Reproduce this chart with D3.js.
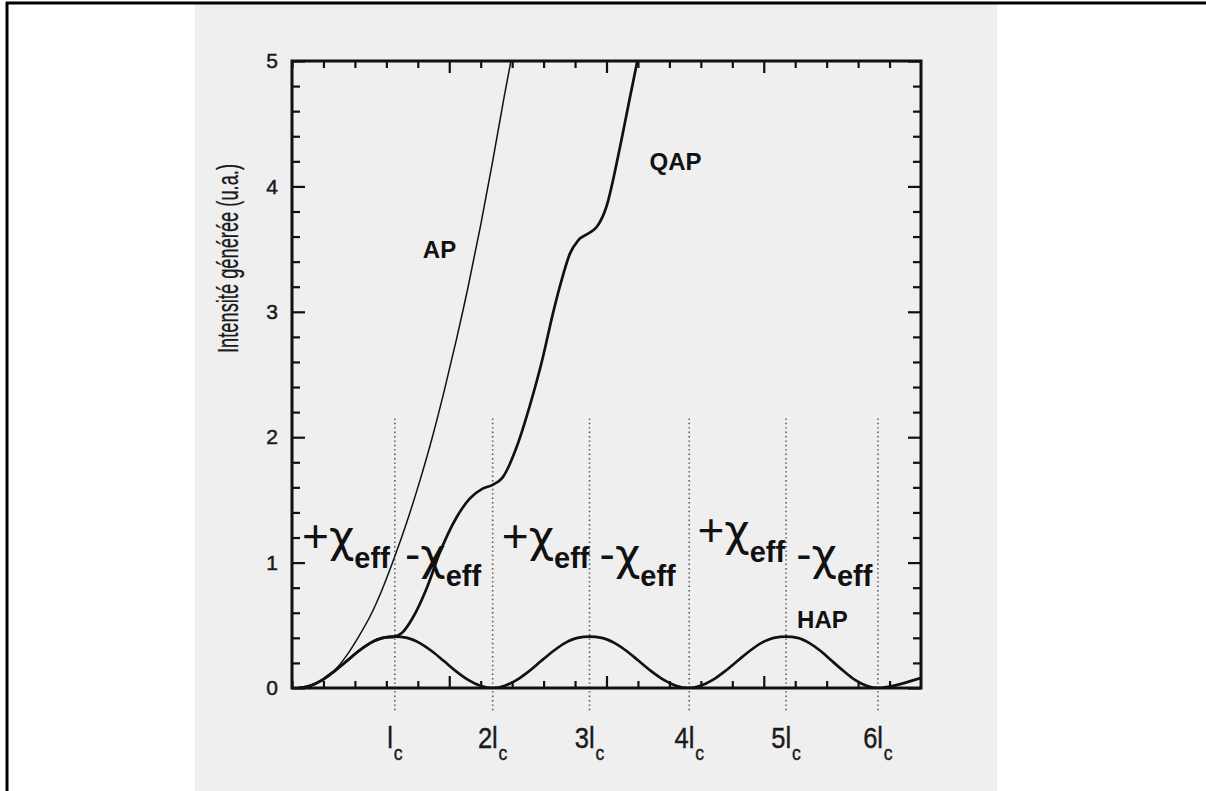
<!DOCTYPE html>
<html>
<head>
<meta charset="utf-8">
<script src="https://cdn.jsdelivr.net/npm/d3@7"></script>
<style>
  html, body { margin: 0; padding: 0; background: #ffffff; }
  svg { display: block; }
  .narrow { font-family: "Liberation Sans Narrow", "Liberation Sans", Arial, sans-serif; }
  .sans { font-family: "Liberation Sans", Arial, Helvetica, sans-serif; }
  .greek { font-family: "DejaVu Sans", "Noto Sans", sans-serif; }
</style>
</head>
<body>
<svg id="chart" width="1206" height="791"></svg>
<script>
// ---------- data (x in length units of the horizontal axis, y in u.a.) ----------
const hapX = [0.20,0.58,0.97,1.35,1.74,2.12,2.50,2.89,3.27,
              3.66,4.05,4.44,4.83,5.21,5.60,5.99,6.38,
              6.77,7.15,7.54,7.92,8.31,8.69,9.08,9.46,
              9.85,10.25,10.64,11.03,11.42,11.82,12.21,12.60,
              12.99,13.38,13.77,14.16,14.55,14.93,15.32,15.71,
              16.08,16.44,16.81,17.17,17.54,17.90,18.27,18.63,
              19.00,19.40,19.80,20.00];
const hapY = [0,0.018,0.065,0.135,0.215,0.295,0.36,0.40,0.41,
              0.40,0.36,0.295,0.215,0.135,0.065,0.018,0,
              0.018,0.065,0.135,0.215,0.295,0.36,0.40,0.41,
              0.40,0.36,0.295,0.215,0.135,0.065,0.018,0,
              0.018,0.065,0.135,0.215,0.295,0.36,0.40,0.41,
              0.40,0.36,0.295,0.215,0.135,0.065,0.018,0,
              0.012,0.035,0.065,0.08];

const apX = [0.20,0.58,0.97,1.35,1.74,2.12,2.50,2.89,3.27,3.66,4.05,4.44,4.83,5.21,5.60,5.99,6.38,6.75,6.96];
const apY = [0,0.018,0.065,0.14,0.26,0.41,0.58,0.80,1.05,1.33,1.64,1.98,2.36,2.76,3.20,3.68,4.20,4.72,5.0];

const qapX = [0.20,0.58,0.97,1.35,1.74,2.12,2.50,2.89,3.27,3.50,3.84,4.29,4.70,5.23,5.65,6.06,6.38,6.70,
              7.14,7.56,7.97,8.29,8.57,8.83,9.10,9.46,9.70,10.00,10.41,10.73,10.98];
const qapY = [0,0.018,0.065,0.135,0.215,0.295,0.36,0.40,0.41,0.44,0.56,0.80,1.08,1.36,1.51,1.59,1.62,1.68,
              1.92,2.25,2.63,2.98,3.25,3.46,3.57,3.63,3.68,3.84,4.29,4.69,5.0];

// coherence-length marks
const lcPos    = [3.27, 6.38, 9.46, 12.63, 15.71, 18.63];
const lcLabels = ["l", "2l", "3l", "4l", "5l", "6l"];

// axis ticks
const xMinorTicks = [0,1,2,3,4,6,7,8,9,11,12,13,14,16,17,18,19];
const xMajorTicks = [5,10,15];
const yMinorTicks = [0.2,0.4,0.6,0.8,1.2,1.4,1.6,1.8,2.2,2.4,2.6,2.8,3.2,3.4,3.6,3.8,4.2,4.4,4.6,4.8];
const yMajorTicks = [0,1,2,3,4,5];

// annotations
const curveNames = ["AP", "QAP", "HAP"];
const curveNameX = [4.16, 11.37, 16.06];
const curveNameY = [3.43, 4.13, 0.48];
const chiSigns = ["+", "-", "+", "-", "+", "-"];
const chiX = [0.32, 3.59, 6.67, 9.78, 12.89, 16.03];
const chiY = [1.085, 0.94, 1.085, 0.94, 1.13, 0.94];

// ---------- drawing ----------
(function () {
const svg = d3.select("#chart");
const W = 1206, H = 791;

svg.append("rect").attr("x", 0).attr("y", 0).attr("width", W).attr("height", H).attr("fill", "#ffffff");
svg.append("rect").attr("x", 195).attr("y", 4).attr("width", 802).attr("height", H - 4).attr("fill", "#efefef");
svg.append("line").attr("x1", 6).attr("x2", W).attr("y1", 3).attr("y2", 3).attr("stroke", "#000").attr("stroke-width", 3);
svg.append("line").attr("x1", 7).attr("x2", 7).attr("y1", 2).attr("y2", H).attr("stroke", "#000").attr("stroke-width", 3);

const pL = 292, pR = 921, pT = 61, pB = 688;
const x = d3.scaleLinear().domain([0, 20]).range([pL, pR]);
const y = d3.scaleLinear().domain([0, 5]).range([pB, pT]);

const ink = "#111";

svg.append("g").selectAll("line").data(lcPos).join("line")
  .attr("x1", d => x(d)).attr("x2", d => x(d))
  .attr("y1", y(2.15)).attr("y2", y(0) + 25)
  .attr("stroke", "#555").attr("stroke-width", 1.6)
  .attr("stroke-dasharray", "1.4,3");

svg.append("defs").append("clipPath").attr("id", "plotclip")
  .append("rect").attr("x", pL).attr("y", pT).attr("width", pR - pL).attr("height", pB - pT);

const line = d3.line().x(d => x(d[0])).y(d => y(d[1])).curve(d3.curveMonotoneX);
const plot = svg.append("g").attr("clip-path", "url(#plotclip)");

plot.append("path").datum(apX.map((v, i) => [v, apY[i]]))
  .attr("d", line).attr("fill", "none").attr("stroke", ink).attr("stroke-width", 1.5);
plot.append("path").datum(qapX.map((v, i) => [v, qapY[i]]))
  .attr("d", line).attr("fill", "none").attr("stroke", ink).attr("stroke-width", 2.7);
plot.append("path").datum(hapX.map((v, i) => [v, hapY[i]]))
  .attr("d", line).attr("fill", "none").attr("stroke", ink).attr("stroke-width", 2.7);

function styleAxis(g) {
  g.select(".domain").remove();
  g.selectAll(".tick line").attr("stroke", ink).attr("stroke-width", 2.2);
}
svg.append("g").attr("transform", `translate(${pL},0)`)
  .call(d3.axisLeft(y).tickValues(yMinorTicks).tickSize(-8).tickFormat(""))
  .call(styleAxis);
svg.append("g").attr("transform", `translate(${pL},0)`)
  .call(d3.axisLeft(y).tickValues(yMajorTicks).tickSizeInner(-13).tickSizeOuter(0).tickPadding(14).tickFormat(d3.format("d")))
  .call(styleAxis)
  .call(g => g.selectAll(".tick text").attr("class", "sans").attr("font-size", 21)
    .attr("fill", "#1a1a1a").attr("stroke", "#1a1a1a").attr("stroke-width", 0.5).attr("text-anchor", "end"));
svg.append("g").attr("transform", `translate(${pR},0)`)
  .call(d3.axisRight(y).tickValues(yMinorTicks).tickSize(-8).tickFormat(""))
  .call(styleAxis);
svg.append("g").attr("transform", `translate(${pR},0)`)
  .call(d3.axisRight(y).tickValues(yMajorTicks).tickSize(-13).tickFormat(""))
  .call(styleAxis);
svg.append("g").attr("transform", `translate(0,${pT})`)
  .call(d3.axisTop(x).tickValues(xMinorTicks).tickSize(-7).tickFormat(""))
  .call(styleAxis);
svg.append("g").attr("transform", `translate(0,${pT})`)
  .call(d3.axisTop(x).tickValues(xMajorTicks).tickSize(-12).tickFormat(""))
  .call(styleAxis);
svg.append("g").attr("transform", `translate(0,${pB})`)
  .call(d3.axisBottom(x).tickValues(xMinorTicks).tickSize(-7).tickFormat(""))
  .call(styleAxis);
svg.append("g").attr("transform", `translate(0,${pB})`)
  .call(d3.axisBottom(x).tickValues(xMajorTicks).tickSize(-12).tickFormat(""))
  .call(styleAxis);

svg.append("rect").attr("x", pL).attr("y", pT).attr("width", pR - pL).attr("height", pB - pT)
  .attr("fill", "none").attr("stroke", ink).attr("stroke-width", 3);

// y-axis title, condensed horizontally like the original narrow face
svg.append("text").attr("class", "narrow")
  .attr("transform", `translate(238,${(pT + pB) / 2 - 116}) rotate(-90) scale(0.61,1)`)
  .attr("text-anchor", "middle").attr("font-size", 30).attr("fill", "#1a1a1a")
  .attr("stroke", "#1a1a1a").attr("stroke-width", 0.3)
  .text("Intensité générée (u.a.)");

const lcText = svg.append("g").selectAll("text").data(lcPos).join("text")
  .attr("class", "narrow").attr("fill", "#1a1a1a").attr("stroke", "#1a1a1a").attr("stroke-width", 0.4)
  .attr("transform", d => `translate(${x(d)},748) scale(0.88,1)`)
  .attr("text-anchor", "middle");
lcText.append("tspan").attr("font-size", 29).text((d, i) => lcLabels[i]);
lcText.append("tspan").attr("font-size", 20).attr("dy", 12).attr("dx", 1).text("c");

svg.append("g").selectAll("text").data(curveNames).join("text")
  .attr("class", "sans").attr("font-weight", "bold").attr("font-size", 24).attr("fill", ink)
  .attr("x", (d, i) => x(curveNameX[i])).attr("y", (d, i) => y(curveNameY[i]))
  .text(d => d);

const chi = svg.append("g").selectAll("text").data(chiSigns).join("text")
  .attr("class", "sans").attr("fill", ink)
  .attr("x", (d, i) => x(chiX[i])).attr("y", (d, i) => y(chiY[i]));
chi.append("tspan").attr("font-size", 46).text(d => d);
chi.append("tspan").attr("class", "greek").attr("font-size", 44).text("\u03C7");
chi.append("tspan").attr("font-size", 29).attr("font-weight", "bold").attr("dy", 16).text("eff");
})();
</script>
</body>
</html>
